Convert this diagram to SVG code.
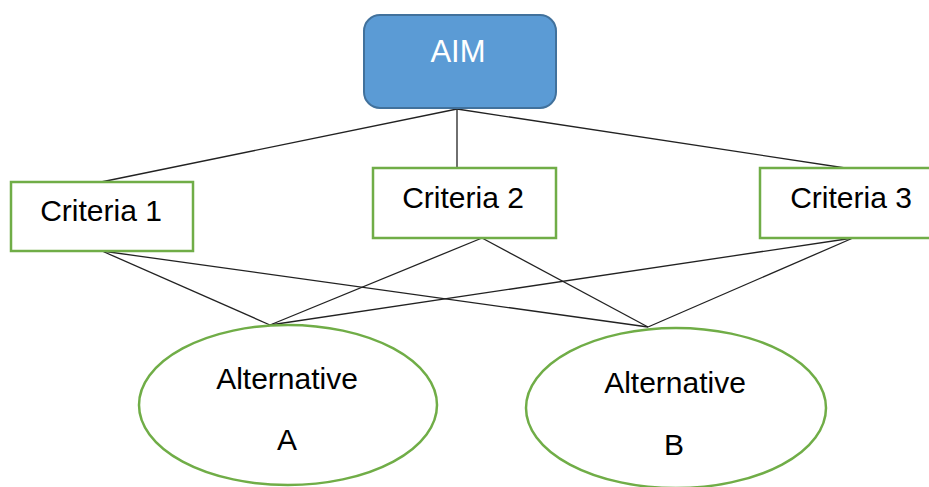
<svg xmlns="http://www.w3.org/2000/svg" width="929" height="487" viewBox="0 0 929 487">
<style>
.box{fill:#fff;stroke:#70AD47;stroke-width:2.5}
.alt{fill:#fff;stroke:#70AD47;stroke-width:2.5}
.t{font-family:"Liberation Sans",Arial,sans-serif;font-size:30px;fill:#000;text-anchor:middle}
.link{stroke:#222;stroke-width:1.3;fill:none}
</style>
<rect width="929" height="487" fill="#fff"/>
<g id="connectors">
<line class="link" x1="457" y1="109" x2="101" y2="182"/>
<line class="link" x1="457" y1="109" x2="457" y2="168"/>
<line class="link" x1="457" y1="109" x2="852" y2="169"/>
<line class="link" x1="102" y1="251" x2="270" y2="325"/>
<line class="link" x1="102" y1="251" x2="648" y2="327"/>
<line class="link" x1="482" y1="238" x2="270" y2="325"/>
<line class="link" x1="482" y1="238" x2="648" y2="327"/>
<line class="link" x1="853" y1="238" x2="270" y2="325"/>
<line class="link" x1="853" y1="238" x2="648" y2="327"/>
</g>
<g id="aim">
<rect x="364" y="15" width="192" height="93" rx="16" fill="#5B9BD5" stroke="#41719C" stroke-width="2"/>
<text class="t" x="458" y="62" style="fill:#fff;font-size:31px">AIM</text>
</g>
<g id="criteria1">
<rect class="box" x="11" y="182" width="182" height="69"/>
<text class="t" x="101" y="221">Criteria 1</text>
</g>
<g id="criteria2">
<rect class="box" x="373" y="168" width="183" height="70"/>
<text class="t" x="463" y="208">Criteria 2</text>
</g>
<g id="criteria3">
<rect class="box" x="760" y="168" width="183" height="70"/>
<text class="t" x="851" y="208">Criteria 3</text>
</g>
<g id="altA">
<ellipse class="alt" cx="288" cy="405" rx="149" ry="80"/>
<text class="t" x="287" y="389">Alternative</text>
<text class="t" x="287" y="450">A</text>
</g>
<g id="altB">
<ellipse class="alt" cx="676" cy="408" rx="150" ry="80"/>
<text class="t" x="675" y="393">Alternative</text>
<text class="t" x="674" y="455">B</text>
</g>
</svg>
